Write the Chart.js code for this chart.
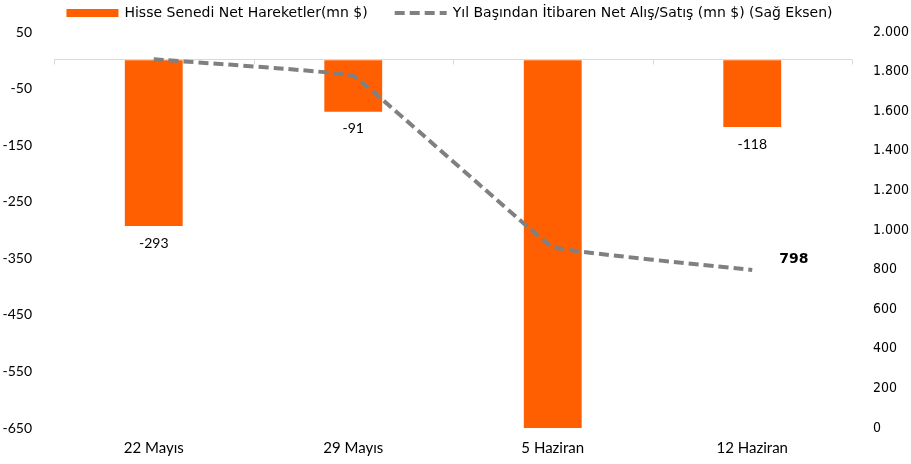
<!DOCTYPE html>
<html lang="tr">
<head>
<meta charset="UTF-8">
<title>Hisse Senedi Net Hareketler</title>
<script src="https://cdn.jsdelivr.net/npm/chart.js"></script>
<style>
    body { margin: 0; padding: 0; background: #fff; }
    .wrap { width: 911px; height: 464px; }
</style>
</head>
<body>
<div class="wrap"><canvas id="grafik" width="911" height="464"></canvas></div>
<script>
    // veriler
    const haftalar = ['22 Mayıs', '29 Mayıs', '5 Haziran', '12 Haziran'];
    const netHareket = [-293, -91, -660, -118];
    const yilBasindan = [1862, 1778, 914, 798];
    const solEksen = { min: -650, max: 50, adim: 100 };
    const sagEksen = { min: 0, max: 2000, adim: 200 };

    const tahomaGibi = '"DejaVu Sans", sans-serif';
    const dar = '"DejaVu Sans Condensed", "DejaVu Sans", sans-serif';
    const calibriGibi = 'Lato, "Open Sans", sans-serif';

    const TURUNCU = '#ff5f00';
    const GRI = '#808080';

    // lejant elle çiziliyor (Excel düzeni)
    const lejant = {
        id: 'lejant',
        afterDraw(chart) {
            const ctx = chart.ctx;
            const ds = chart.data.datasets;
            ctx.save();
            ctx.font = '14px ' + tahomaGibi;
            ctx.textBaseline = 'middle';
            const kutu = 52, bosluk = 6, ara = 27, y = 13;
            const w = ds.map(d => kutu + bosluk + ctx.measureText(d.label).width);
            let x = (chart.width - (w[0] + ara + w[1])) / 2 - 6;
            ctx.fillStyle = TURUNCU;
            ctx.fillRect(x, y - 4, kutu, 8);
            ctx.fillStyle = '#000';
            ctx.fillText(ds[0].label, x + kutu + bosluk, y);
            x += w[0] + ara;
            ctx.strokeStyle = GRI;
            ctx.lineWidth = 4;
            ctx.setLineDash([10, 5]);
            ctx.beginPath();
            ctx.moveTo(x, y);
            ctx.lineTo(x + kutu, y);
            ctx.stroke();
            ctx.setLineDash([]);
            ctx.fillText(ds[1].label, x + kutu + bosluk, y);
            ctx.restore();
        }
    };

    // sıfır çizgisi ve çentikler
    const sifirCizgisi = {
        id: 'sifirCizgisi',
        beforeDatasetsDraw(chart) {
            const ctx = chart.ctx;
            const a = chart.chartArea;
            const x = chart.scales.x;
            const y0 = Math.round(chart.scales.y.getPixelForValue(0)) - 0.5;
            ctx.save();
            ctx.strokeStyle = '#d9d9d9';
            ctx.lineWidth = 1;
            ctx.beginPath();
            ctx.moveTo(a.left, y0);
            ctx.lineTo(a.right, y0);
            for (let i = 0; i <= haftalar.length; i++) {
                const px = Math.round(x.getPixelForValue(i - 0.5)) + 0.5;
                ctx.moveTo(px, y0);
                ctx.lineTo(px, y0 + 5);
            }
            ctx.stroke();
            ctx.restore();
        }
    };

    // veri etiketleri
    const etiketler = {
        id: 'etiketler',
        afterDatasetsDraw(chart) {
            const ctx = chart.ctx;
            ctx.save();
            ctx.fillStyle = '#000';
            ctx.font = '14px ' + calibriGibi;
            ctx.textAlign = 'center';
            ctx.textBaseline = 'middle';
            chart.getDatasetMeta(0).data.forEach((bar, i) => {
                if (netHareket[i] < solEksen.min) return;
                ctx.fillText(netHareket[i], bar.x, bar.y + 17);
            });
            const son = chart.getDatasetMeta(1).data[yilBasindan.length - 1];
            ctx.font = 'bold 14px ' + tahomaGibi;
            ctx.textAlign = 'left';
            ctx.fillText(yilBasindan[yilBasindan.length - 1], son.x + 27, son.y - 11);
            ctx.restore();
        }
    };

    new Chart(document.getElementById('grafik'), {
        type: 'bar',
        data: {
            labels: haftalar,
            datasets: [{
                type: 'bar',
                label: 'Hisse Senedi Net Hareketler(mn $)',
                data: netHareket,
                backgroundColor: TURUNCU,
                borderWidth: 0,
                barPercentage: 0.29,
                categoryPercentage: 1,
                yAxisID: 'y',
                order: 1
            }, {
                type: 'line',
                label: 'Yıl Başından İtibaren Net Alış/Satış (mn $) (Sağ Eksen)',
                data: yilBasindan,
                borderColor: GRI,
                borderWidth: 4,
                borderDash: [10, 5],
                tension: 0.05,
                pointRadius: 0,
                yAxisID: 'y2',
                order: 0
            }]
        },
        options: {
            responsive: false,
            animation: false,
            layout: { padding: { top: 32, bottom: 4 } },
            plugins: {
                legend: { display: false },
                tooltip: { enabled: false }
            },
            scales: {
                x: {
                    grid: { display: false },
                    border: { display: false },
                    ticks: { color: '#000', font: { family: calibriGibi, size: 15 }, padding: 3 }
                },
                y: {
                    position: 'left',
                    min: solEksen.min,
                    max: solEksen.max,
                    afterFit: s => { s.width = 54; },
                    border: { display: false },
                    grid: { display: false },
                    ticks: {
                        color: '#000',
                        padding: 14,
                        font: { family: calibriGibi, size: 14 }
                    },
                    afterBuildTicks: s => {
                        s.ticks = [];
                        for (let v = solEksen.max; v >= solEksen.min; v -= solEksen.adim) s.ticks.push({ value: v });
                    }
                },
                y2: {
                    position: 'right',
                    min: sagEksen.min,
                    max: sagEksen.max,
                    afterFit: s => { s.width = 59; },
                    border: { display: false },
                    grid: { display: false },
                    ticks: {
                        stepSize: sagEksen.adim,
                        color: '#000',
                        padding: 13,
                        font: { family: dar, size: 14 },
                        callback: v => v.toLocaleString('de-DE')
                    }
                }
            }
        },
        plugins: [sifirCizgisi, etiketler, lejant]
    });
</script>
</body>
</html>
